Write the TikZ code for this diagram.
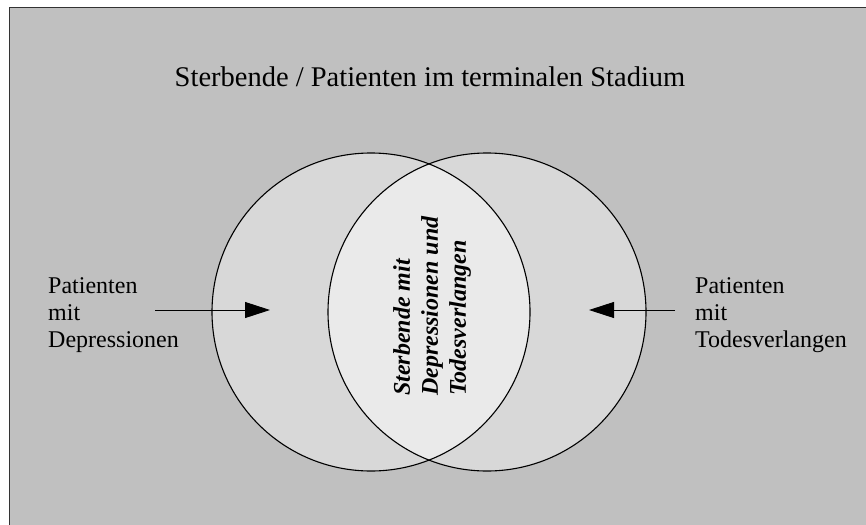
\documentclass[tikz,border=0pt]{standalone}
\usepackage{fontspec}
\setmainfont{Liberation Serif}
\usepackage{xcolor}
\usepackage{tikz}
\usetikzlibrary{arrows.meta}

\definecolor{hintergrund}{HTML}{C0C0C0}
\definecolor{kreisgrau}{HTML}{D8D8D8}
\definecolor{schnitt}{HTML}{EAEAEA}

\tikzset{
	seitentext/.style={anchor=north west, inner sep=0pt, align=left, font=\fontsize{24}{27}\selectfont},
	pfeil/.style={line width=0.9pt, -{Triangle[length=25pt, width=16pt]}},
	kreislinie/.style={line width=1.1pt}
}

\begin{document}
\begin{tikzpicture}[x=1pt, y=-1pt]
				\useasboundingbox (0,0) rectangle (866,524);
				\clip (0,0) rectangle (866,524);
				\draw[fill=hintergrund, draw=black!80, line width=1pt] (9.5,8) rectangle (880,540);

				\fill[kreisgrau] (371,312) circle (159);
				\fill[kreisgrau] (487,312) circle (159);
				\begin{scope}
					\clip (371,312) circle (159);
					\fill[schnitt] (487,312) circle (159);
				\end{scope}
				\draw[kreislinie] (371,312) circle (159);
				\draw[kreislinie] (487,312) circle (159);

				\draw (430,87) node [anchor=base, font=\fontsize{28.5}{32}\selectfont] (titel) {Sterbende / Patienten im terminalen Stadium};

				\draw (48,277) node [seitentext] (depr) {Patienten\\mit\\Depressionen};
				\draw (695,277) node [seitentext] (todes) {Patienten\\mit\\Todesverlangen};

				\draw (432,306) node [rotate=90, inner sep=0pt, align=left, font=\fontsize{24}{28}\selectfont\bfseries\itshape] (mitte) {Sterbende mit\\Depressionen und\\Todesverlangen};

				\coordinate (pfeilLa) at (155,310);
				\coordinate (pfeilLb) at (270,310);
				\coordinate (pfeilRa) at (675,310);
				\coordinate (pfeilRb) at (589,310);
				\draw[pfeil] (pfeilLa) -- (pfeilLb);
				\draw[pfeil] (pfeilRa) -- (pfeilRb);
\end{tikzpicture}
\end{document}
